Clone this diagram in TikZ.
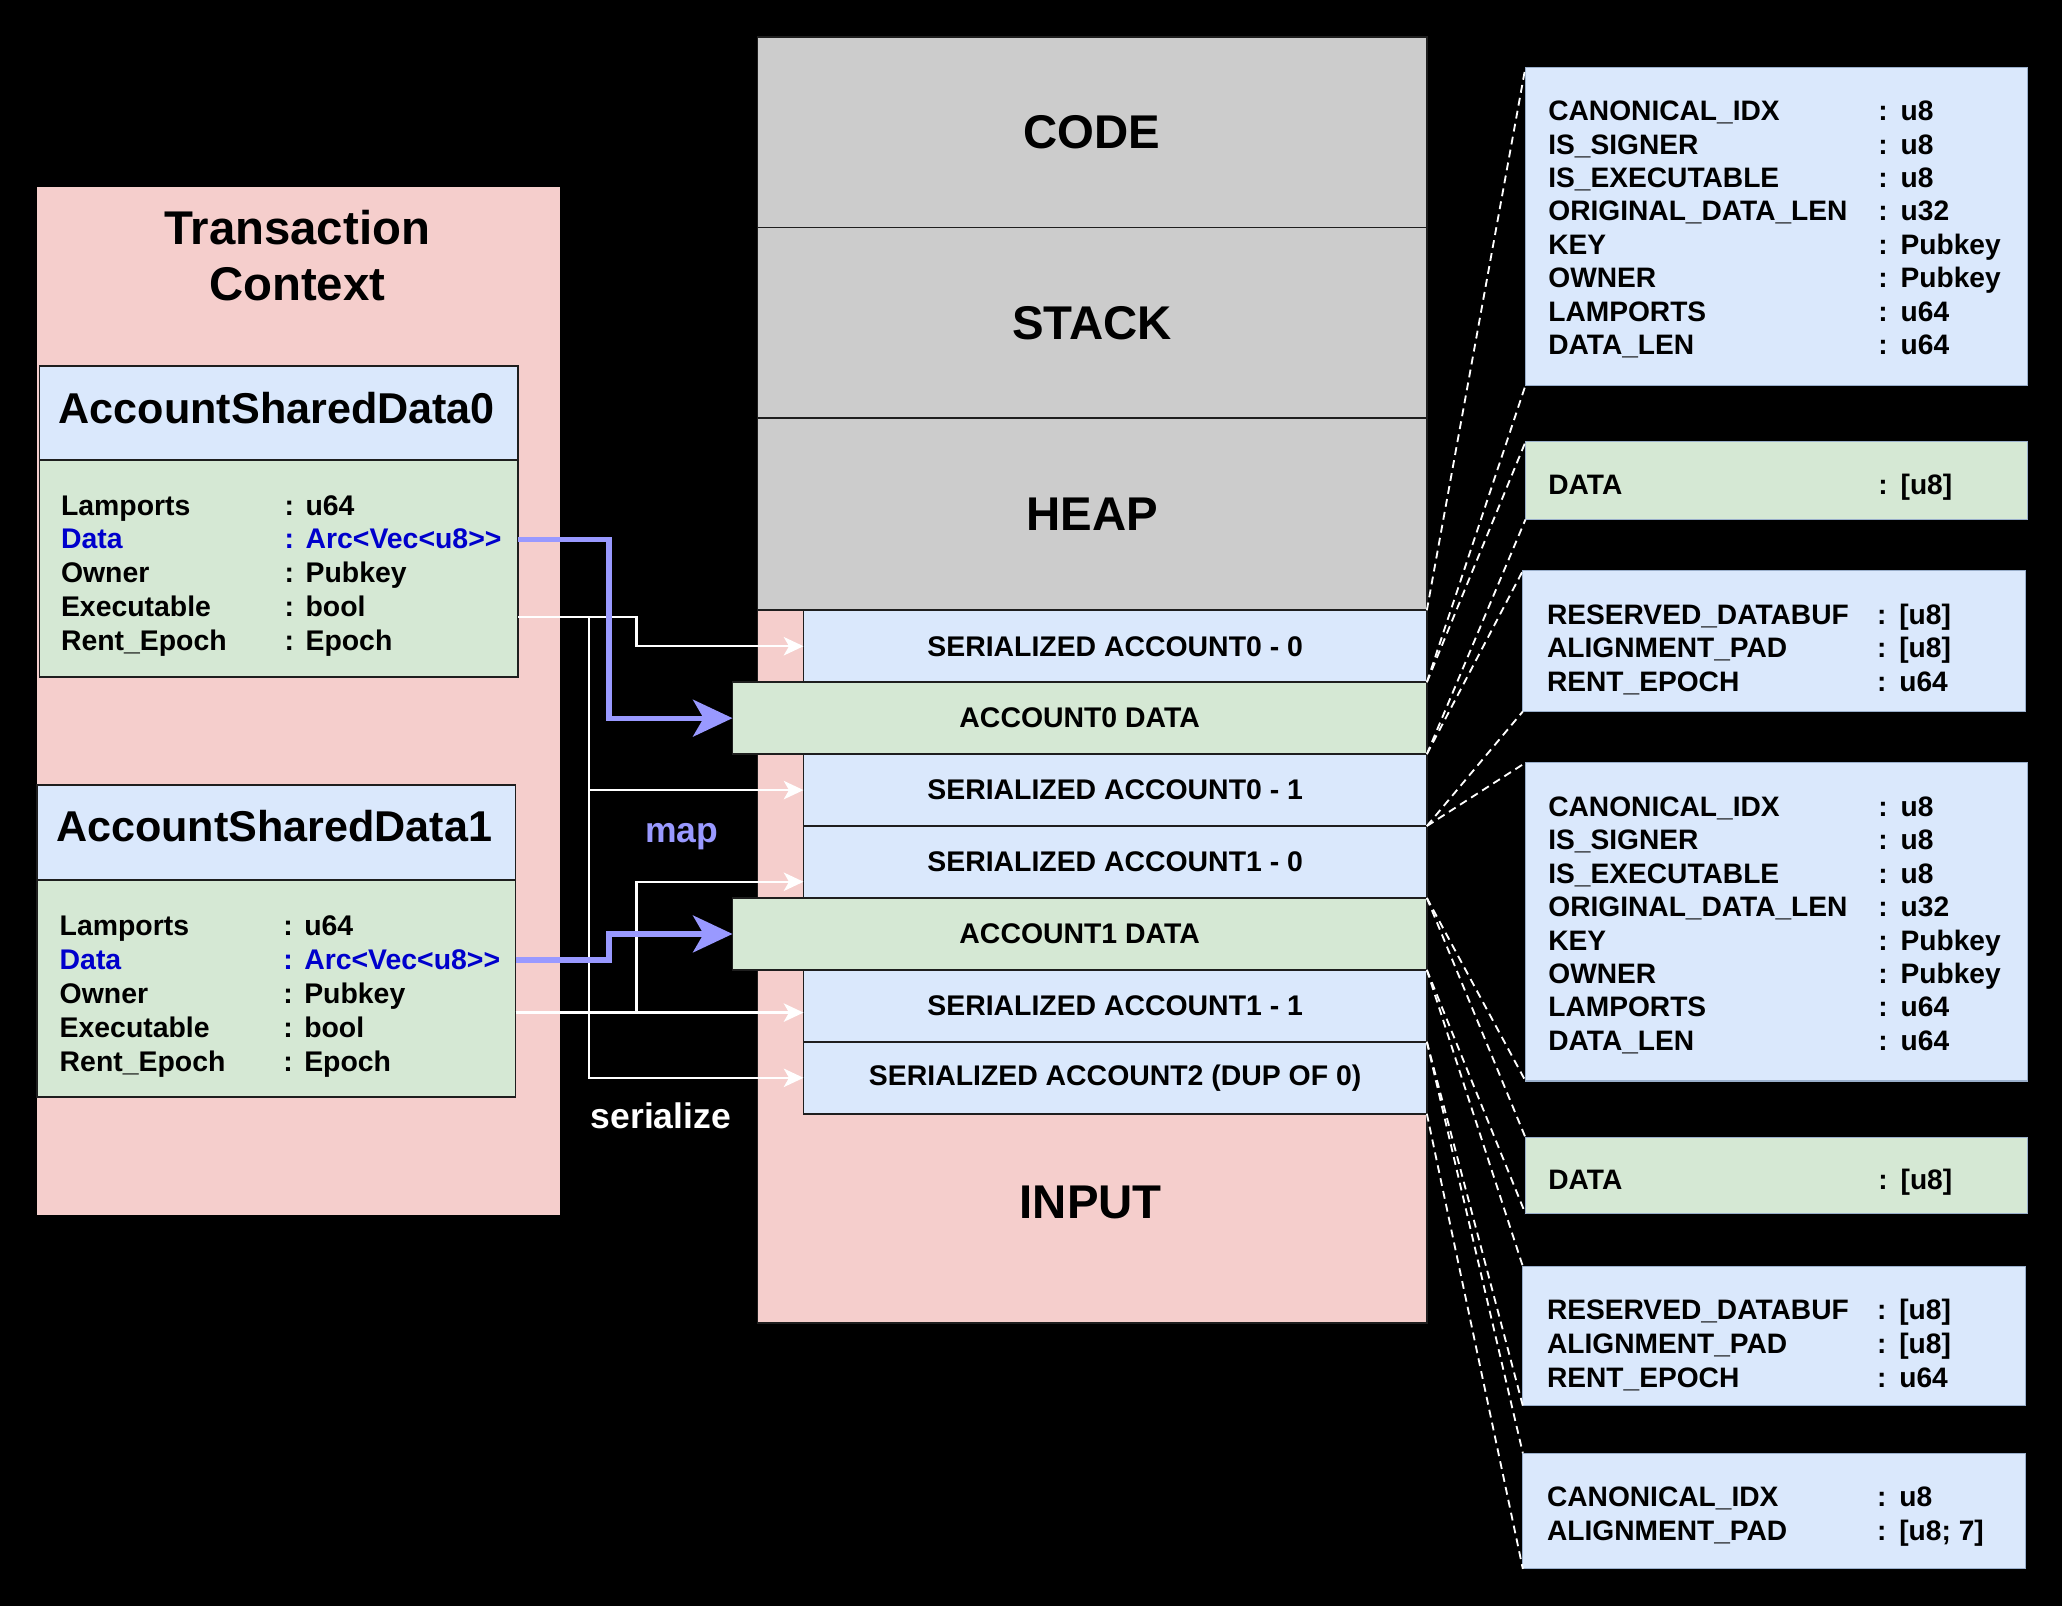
\documentclass[tikz,border=0pt]{standalone}
\usepackage{fontspec}
\setmainfont{Liberation Sans}
\usetikzlibrary{arrows.meta,calc}
\definecolor{pinkf}{HTML}{F5CECC}
\definecolor{bluef}{HTML}{DAE8FC}
\definecolor{greenf}{HTML}{D5E8D4}
\definecolor{grayf}{HTML}{CCCCCC}
\definecolor{mapc}{HTML}{9999FF}
\definecolor{datac}{HTML}{0000CC}
\definecolor{edgec}{HTML}{1E1E1E}
\definecolor{redge}{HTML}{9AAFCB}
\begin{document}
\begin{tikzpicture}[x=0.5pt,y=-0.5pt,
  box/.style={rectangle, inner sep=0pt, outer sep=0pt, draw=edgec, line width=0.7pt},
  rbox/.style={rectangle, inner sep=0pt, outer sep=0pt, draw=redge, line width=0.4pt, minimum width=191pt},
  bigf/.style={font=\fontsize{18}{21.5}\selectfont\bfseries},
  headf/.style={font=\fontsize{16.4}{18}\selectfont\bfseries, inner sep=0pt},
  midf/.style={font=\fontsize{10.8}{13}\selectfont\bfseries},
  lrow/.style={font=\fontsize{10.8}{12.9}\selectfont\bfseries, inner sep=0pt, anchor=base west},
  rrow/.style={font=\fontsize{10.7}{12.7}\selectfont\bfseries, inner sep=0pt, anchor=base west},
  serrow/.style={box, fill=bluef, midf, minimum width=237pt, minimum height=27.357pt},
  datarow/.style={box, fill=greenf, midf, minimum width=264pt, minimum height=27.357pt},
  seg/.style={box, fill=grayf, bigf, minimum width=254.5pt},
  dline/.style={draw=white, line width=0.7pt, dash pattern=on 3pt off 2pt},
  ser/.style={draw=white, line width=0.9pt, -{Stealth[length=7.5pt, width=7pt, inset=2pt]}},
  maparrow/.style={draw=mapc, line width=2pt, -{Stealth[length=15pt, width=14pt, inset=4pt]}},
  lbl/.style={font=\fontsize{13.5}{15}\selectfont\bfseries, inner sep=0pt, anchor=base}
]
\useasboundingbox (0,0) rectangle (1568,1221);
\fill[black] (0,0) rectangle (1568,1221);

% ---------------- Transaction context ----------------
\node[rectangle, inner sep=0pt, fill=pinkf, minimum width=199pt, minimum height=391pt] (tc) at (227,533) {};
\node[bigf, align=center, inner sep=0pt] (tctitle) at (226,194.5) {Transaction\\Context};

\node[box, fill=bluef, minimum width=182pt, minimum height=36pt] (a0head) at (212,314) {};
\node[headf] (a0headlbl) at (210.5,310) {AccountSharedData0};
\node[box, fill=greenf, minimum width=182pt, minimum height=82.5pt] (a0body) at (212,432.5) {};
\node[box, fill=bluef, minimum width=182pt, minimum height=36pt] (a1head) at (210,633) {};
\node[headf] (a1headlbl) at (208.5,628) {AccountSharedData1};
\node[box, fill=greenf, minimum width=182pt, minimum height=82.5pt] (a1body) at (210,751.5) {};

\foreach \l/\v/\c [count=\i] in {Lamports/u64/black, Data/{Arc<\kern0pt Vec<\kern0pt u8>\kern0pt>}/datac, Owner/Pubkey/black, Executable/bool/black, Rent\_Epoch/Epoch/black}{
  \node[lrow, text=\c] (a0r\i) at ({46},{391.7+25.75*(\i-1)}) {\makebox[85pt][l]{\l}:\hspace{4.4pt}\v};
  \node[lrow, text=\c] (a1r\i) at ({45},{711.7+25.75*(\i-1)}) {\makebox[85pt][l]{\l}:\hspace{4.4pt}\v};
}

% ---------------- Memory layout ----------------
\node[seg, minimum height=72.5pt] (code) at (830.5,100.5) {CODE};
\node[seg, minimum height=72.5pt] (stack) at (830.5,245.5) {STACK};
\node[seg, minimum height=73pt] (heap) at (830.5,391) {HEAP};
\node[box, fill=pinkf, minimum width=254.5pt, minimum height=271pt] (input) at (830.5,735) {};
\node[bigf, inner sep=0pt] (inputlbl) at (829.5,914) {INPUT};

\node[serrow] (sa00) at (848,491.4) {SERIALIZED ACCOUNT0 - 0};
\node[datarow] (acc0) at (821,546.1) {ACCOUNT0 DATA};
\node[serrow] (sa01) at (848,600.8) {SERIALIZED ACCOUNT0 - 1};
\node[serrow] (sa10) at (848,655.5) {SERIALIZED ACCOUNT1 - 0};
\node[datarow] (acc1) at (821,710.2) {ACCOUNT1 DATA};
\node[serrow] (sa11) at (848,764.9) {SERIALIZED ACCOUNT1 - 1};
\node[serrow] (sa2) at (848,819.6) {SERIALIZED ACCOUNT2 (DUP OF 0)};

% ---------------- Right-hand detail boxes ----------------
\node[rbox, fill=bluef, minimum height=121pt] (r1) at (1351,172) {};
\node[rbox, fill=greenf, minimum height=29.5pt] (r2) at (1351,365.5) {};
\node[rbox, fill=bluef, minimum height=53.5pt] (r3) at (1349,487.5) {};
\node[rbox, fill=bluef, minimum height=121pt] (r4) at (1351,701) {};
\node[rbox, fill=greenf, minimum height=29pt] (r5) at (1351,894) {};
\node[rbox, fill=bluef, minimum height=53pt] (r6) at (1349,1016) {};
\node[rbox, fill=bluef, minimum height=44pt] (r7) at (1349,1149) {};

\foreach \l/\v [count=\i] in {CANONICAL\_IDX/u8, IS\_SIGNER/u8, IS\_EXECUTABLE/u8, ORIGINAL\_DATA\_LEN/u32, KEY/Pubkey, OWNER/Pubkey, LAMPORTS/u64, DATA\_LEN/u64}{
  \node[rrow] (ra\i) at ({1177},{91.7+25.43*(\i-1)}) {\makebox[125.5pt][l]{\l}:\hspace{4.9pt}\v};
  \node[rrow] (rd\i) at ({1177},{620.7+25.43*(\i-1)}) {\makebox[125.5pt][l]{\l}:\hspace{4.9pt}\v};
}
\node[rrow] (rb1) at (1177,375.7) {\makebox[125.5pt][l]{DATA}:\hspace{4.9pt}[u8]};
\node[rrow] (re1) at (1177,904.7) {\makebox[125.5pt][l]{DATA}:\hspace{4.9pt}[u8]};
\foreach \l/\v [count=\i] in {RESERVED\_DATABUF/{[u8]}, ALIGNMENT\_PAD/{[u8]}, RENT\_EPOCH/u64}{
  \node[rrow] (rc\i) at ({1176},{474.7+25.5*(\i-1)}) {\makebox[125.5pt][l]{\l}:\hspace{4.9pt}\v};
  \node[rrow] (rf\i) at ({1176},{1003.7+25.5*(\i-1)}) {\makebox[125.5pt][l]{\l}:\hspace{4.9pt}\v};
}
\foreach \l/\v [count=\i] in {CANONICAL\_IDX/u8, ALIGNMENT\_PAD/{[u8; 7]}}{
  \node[rrow] (rg\i) at ({1176},{1145.7+25.5*(\i-1)}) {\makebox[125.5pt][l]{\l}:\hspace{4.9pt}\v};
}

% ---------------- Dashed expansion lines ----------------
\foreach \a/\b in {sa00/r1, acc0/r2, sa01/r3, sa10/r4, acc1/r5, sa11/r6, sa2/r7}{
  \draw[dline] (\a.north east) -- (\b.north west);
  \draw[dline] (\a.south east) -- (\b.south west);
}

% ---------------- Serialize connectors ----------------
\coordinate (s0) at ([yshift=-18.25pt]a0body.east);
\coordinate (s1) at ([yshift=-9.25pt]a1body.east);
\draw[ser] (s0) -- ++(90,0) |- (sa00.west);
\draw[ser] (s0) -- ++(54,0) |- (sa01.west);
\draw[ser] (s0) -- ++(54,0) |- (sa2.west);
\draw[ser] (s1) -- (s1 -| sa11.west);
\draw[ser] (s1) -- ++(92,0) |- ([yshift=-7.5pt]sa10.west);

% ---------------- Map connectors ----------------
\draw[maparrow] (a0r2.east -| a0body.east) -- ++(69,0) |- (acc0.west);
\draw[maparrow] (a1r2.east -| a1body.east) -- ++(71,0) |- (acc1.west);

\node[lbl, text=mapc] (maplbl) at (518.5,641) {map};
\node[lbl, text=white] (serlbl) at (502.5,858) {serialize};
\end{tikzpicture}
\end{document}
